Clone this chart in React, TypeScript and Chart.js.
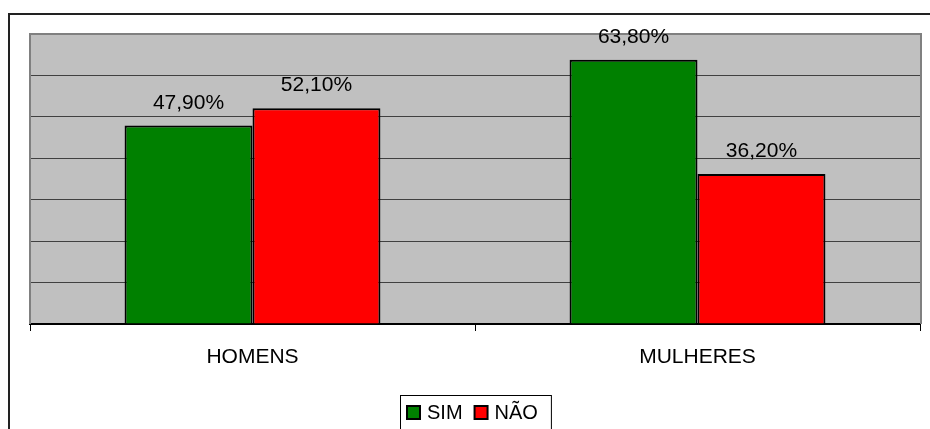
import React, { useEffect, useRef } from "react";
import { Chart, registerables } from "chart.js";

Chart.register(...registerables);

const categories = ["HOMENS", "MULHERES"];
const simValues = [47.9, 63.8];
const naoValues = [52.1, 36.2];
const seriesNames = ["SIM", "NÃO"];
const seriesColors = ["#008000", "#ff0000"];
const yMax = 70;
const yStep = 10;

const FONT = "'Liberation Sans', Arial, sans-serif";

const fmt = (v: number) => v.toFixed(2).replace(".", ",") + "%";

const framePlugin = {
  id: "frame",
  beforeDraw(chart: any) {
    const { ctx, chartArea: a } = chart;
    ctx.save();
    ctx.fillStyle = "#ffffff";
    ctx.fillRect(0, 0, chart.width, chart.height);
    // outer frame
    ctx.strokeStyle = "#222222";
    ctx.lineWidth = 2;
    ctx.strokeRect(9, 14, chart.width + 20, chart.height + 20);
    // plot background
    ctx.fillStyle = "#c0c0c0";
    ctx.fillRect(a.left, a.top, a.right - a.left, a.bottom - a.top);
    ctx.restore();
  },
  beforeDatasetsDraw(chart: any) {
    const { ctx, chartArea: a } = chart;
    ctx.save();
    ctx.strokeStyle = "#808080";
    ctx.lineWidth = 2;
    ctx.beginPath();
    ctx.moveTo(a.left, a.bottom);
    ctx.lineTo(a.left, a.top);
    ctx.lineTo(a.right + 1, a.top);
    ctx.lineTo(a.right + 1, a.bottom);
    ctx.stroke();
    ctx.restore();
  },
  afterDatasetsDraw(chart: any) {
    const { ctx } = chart;
    ctx.save();
    ctx.font = `21px ${FONT}`;
    ctx.fillStyle = "#000000";
    ctx.textAlign = "center";
    ctx.textBaseline = "alphabetic";
    chart.data.datasets.forEach((ds: any, i: number) => {
      const meta = chart.getDatasetMeta(i);
      meta.data.forEach((bar: any, j: number) => {
        ctx.fillText(fmt(ds.data[j]), bar.x, bar.y - 17);
      });
    });
    // legend
    ctx.font = `20px ${FONT}`;
    ctx.textAlign = "left";
    const boxX = 400.5;
    const boxY = 395.5;
    let x = 407;
    const parts: { name: string; color: string }[] = chart.data.datasets.map((ds: any) => ({
      name: ds.label,
      color: ds.backgroundColor,
    }));
    let totalW = 0;
    parts.forEach((p, k) => {
      totalW += 13 + 7 + ctx.measureText(p.name).width + (k < parts.length - 1 ? 12 : 0);
    });
    ctx.strokeStyle = "#000000";
    ctx.lineWidth = 1;
    ctx.strokeRect(boxX, boxY, totalW + 20, 60);
    parts.forEach((p) => {
      ctx.fillStyle = p.color;
      ctx.fillRect(x, 406, 13, 13);
      ctx.lineWidth = 2;
      ctx.strokeRect(x, 406, 13, 13);
      ctx.fillStyle = "#000000";
      ctx.fillText(p.name, x + 20, 419);
      x += 13 + 7 + ctx.measureText(p.name).width + 12;
    });
    ctx.restore();
  },
};

export default function App() {
  const ref = useRef<HTMLCanvasElement>(null);
  useEffect(() => {
    if (!ref.current) return;
    const chart = new Chart(ref.current, {
      type: "bar",
      data: {
        labels: categories,
        datasets: [
          {
            label: seriesNames[0],
            data: simValues,
            backgroundColor: seriesColors[0],
            borderColor: "#000000",
            borderWidth: 2,
            categoryPercentage: 0.575,
            barPercentage: 1,
          },
          {
            label: seriesNames[1],
            data: naoValues,
            backgroundColor: seriesColors[1],
            borderColor: "#000000",
            borderWidth: 2,
            categoryPercentage: 0.575,
            barPercentage: 1,
          },
        ],
      },
      options: {
        responsive: false,
        animation: false,
        devicePixelRatio: 1,
        layout: { padding: { left: 30, right: 10, top: 34, bottom: 0 } },
        plugins: {
          legend: { display: false },
          tooltip: { enabled: false },
        },
        scales: {
          x: {
            offset: true,
            grid: {
              offset: true,
              drawOnChartArea: false,
              drawTicks: true,
              tickLength: 7,
              color: "#000000",
              lineWidth: 1,
            },
            border: { display: true, color: "#000000", width: 2 },
            ticks: {
              padding: 14,
              color: "#000000",
              font: { family: FONT, size: 21 },
            },
            afterFit(scale: any) {
              scale.height = 105;
            },
          },
          y: {
            min: 0,
            max: yMax,
            ticks: { display: false, stepSize: yStep },
            grid: { drawTicks: false, color: "#404040", lineWidth: 1 },
            border: { display: false },
            afterFit(scale: any) {
              scale.width = 0;
            },
          },
        },
      },
      plugins: [framePlugin],
    });
    return () => chart.destroy();
  }, []);
  return (
    <div style={{ position: "fixed", left: 0, top: 0, width: 930, height: 429 }}>
      <canvas ref={ref} width={930} height={429} />
    </div>
  );
}
